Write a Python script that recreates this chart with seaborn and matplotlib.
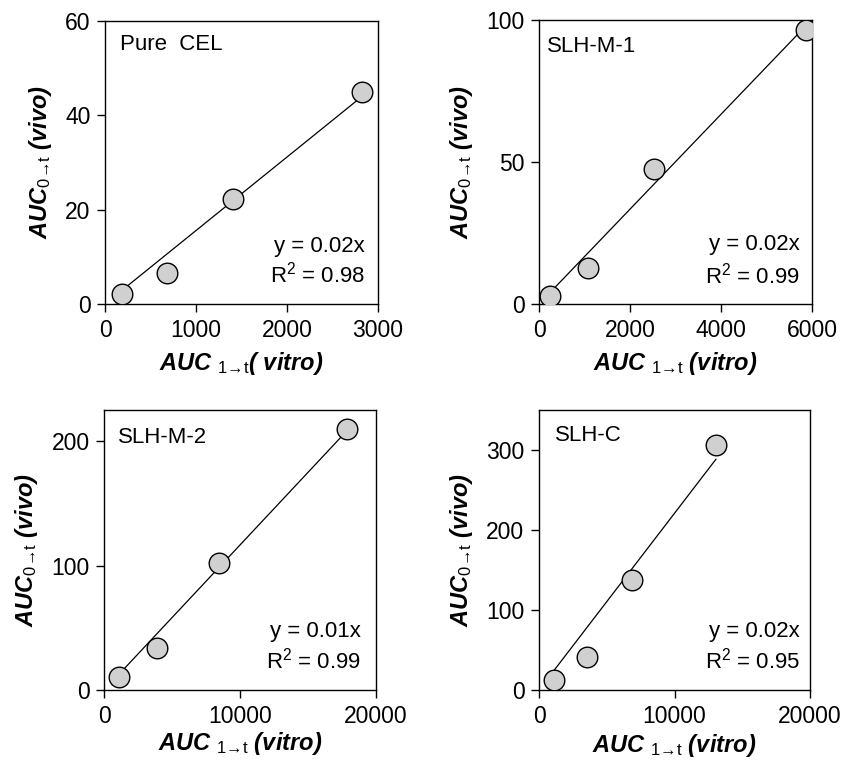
import numpy as np
import pandas as pd
import matplotlib
matplotlib.use("Agg")
import matplotlib.pyplot as plt
import seaborn as sns

# values
names = ["Pure  CEL", "SLH-M-1", "SLH-M-2", "SLH-C"]

cel_vitro = [183, 678, 1410, 2828]
cel_vivo = [2.1, 6.6, 22.3, 44.9]

m1_vitro = [241, 1076, 2532, 5862]
m1_vivo = [2.8, 12.6, 47.7, 96.6]

m2_vitro = [1105, 3861, 8475, 17907]
m2_vivo = [10.5, 33.6, 102, 209.7]

c_vitro = [1130, 3565, 6840, 13063]
c_vivo = [12.5, 41.8, 138, 306.7]

equations = ["y = 0.02x", "y = 0.02x", "y = 0.01x", "y = 0.02x"]
r2_labels = ["0.98", "0.99", "0.99", "0.95"]

xlims = [3000, 6000, 20000, 20000]
ylims = [60, 100, 225, 350]
xticks = [[0, 1000, 2000, 3000], [0, 2000, 4000, 6000],
          [0, 10000, 20000], [0, 10000, 20000]]
yticks = [[0, 20, 40, 60], [0, 50, 100], [0, 100, 200], [0, 100, 200, 300]]

xlabels = [r"$\mathbfit{AUC}\ _{\mathrm{1→t}}\mathbfit{(\ vitro)}$",
           r"$\mathbfit{AUC}\ _{\mathrm{1→t}}\ \mathbfit{(vitro)}$",
           r"$\mathbfit{AUC}\ _{\mathrm{1→t}}\ \mathbfit{(vitro)}$",
           r"$\mathbfit{AUC}\ _{\mathrm{1→t}}\ \mathbfit{(vitro)}$"]
ylabel = r"$\mathbfit{AUC}_{\mathrm{0→t}}\ \mathbfit{(vivo)}$"

sns.set_style("ticks")
plt.rcParams["font.family"] = ["Liberation Sans", "DejaVu Sans"]
plt.rcParams["mathtext.fontset"] = "custom"
plt.rcParams["mathtext.rm"] = "Liberation Sans"
plt.rcParams["mathtext.it"] = "Liberation Sans:italic"
plt.rcParams["mathtext.bf"] = "Liberation Sans:bold"
plt.rcParams["mathtext.bfit"] = "Liberation Sans:italic:bold"
for key in ["text.color", "axes.labelcolor", "xtick.color", "ytick.color",
            "axes.edgecolor"]:
    plt.rcParams[key] = "black"

fig = plt.figure(figsize=(8.56, 7.61), dpi=100)
rects = [
    [0.1227, 0.6005, 0.3189, 0.3719],
    [0.6297, 0.6005, 0.3189, 0.3732],
    [0.1218, 0.0933, 0.3171, 0.3679],
    [0.6297, 0.0933, 0.3166, 0.3679],
]
# text placement: (name x, name top, eq right, eq baseline, r2 baseline)
spots = [
    (0.055, 0.955, 0.952, 0.185, 0.075),
    (0.028, 0.942, 0.956, 0.19, 0.074),
    (0.052, 0.94, 0.945, 0.19, 0.078),
    (0.057, 0.945, 0.963, 0.188, 0.078),
]
xpads = [6, 6, 2, 3]

datasets = [(cel_vitro, cel_vivo), (m1_vitro, m1_vivo),
            (m2_vitro, m2_vivo), (c_vitro, c_vivo)]

for i, (xv, yv) in enumerate(datasets):
    ax = fig.add_axes(rects[i])
    x = np.array(xv, dtype=float)
    y = np.array(yv, dtype=float)
    # regression through the origin
    slope = (x * y).sum() / (x * x).sum()
    fit = pd.DataFrame({"x": [x.min(), x.max()], "y": [slope * x.min(), slope * x.max()]})
    sns.lineplot(data=fit, x="x", y="y", ax=ax, color="black", linewidth=0.9)
    sns.scatterplot(x=x, y=y, ax=ax, s=220, color="#d0d0d0",
                    edgecolor="black", linewidth=1.0, zorder=3)

    ax.set_xlim(0, xlims[i])
    ax.set_ylim(0, ylims[i])
    ax.set_xticks(xticks[i])
    ax.set_yticks(yticks[i])
    ax.tick_params(direction="out", length=5.5, width=1, labelsize=16.5,
                   pad=5, color="black")
    for sp in ax.spines.values():
        sp.set_visible(True)
        sp.set_color("black")
        sp.set_linewidth(1.0)

    ax.set_xlabel(xlabels[i], fontsize=17, labelpad=xpads[i])
    ax.set_ylabel(ylabel, fontsize=17, labelpad=8)

    nx, ny, ex, ey, ry = spots[i]
    ax.text(nx, ny, names[i], transform=ax.transAxes, fontsize=16,
            ha="left", va="top")
    ax.text(ex, ey, equations[i], transform=ax.transAxes, fontsize=16,
            ha="right", va="baseline")
    ax.text(ex, ry, "R$^2$ = " + r2_labels[i], transform=ax.transAxes,
            fontsize=16, ha="right", va="baseline")

fig.savefig("out.png", dpi=100)
